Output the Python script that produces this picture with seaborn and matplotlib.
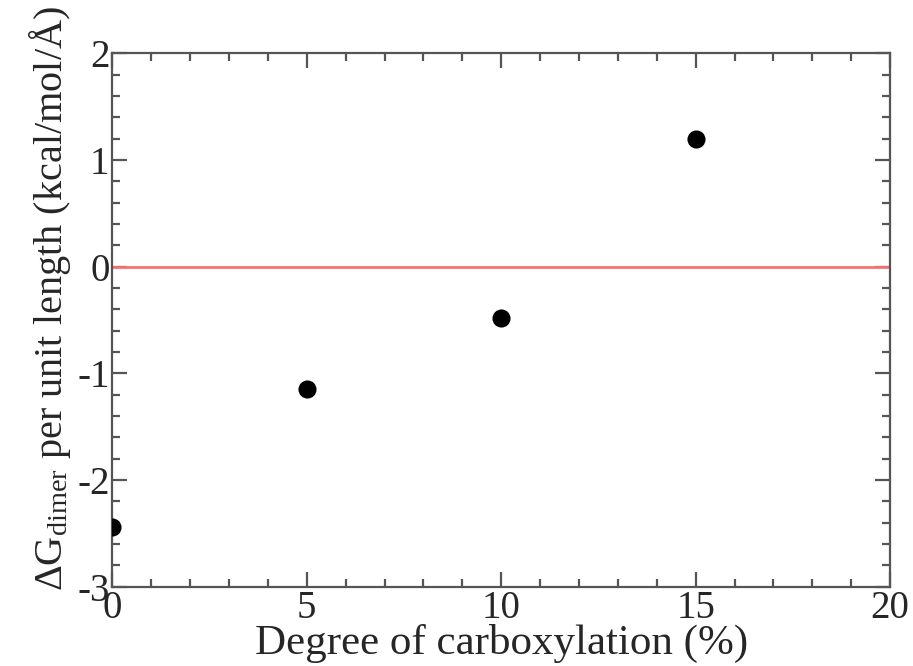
import numpy as np
import pandas as pd
import matplotlib
matplotlib.use("Agg")
import matplotlib.pyplot as plt
import seaborn as sns
from matplotlib.ticker import MultipleLocator

# data
carboxylation = [0, 5, 10, 15]
dG_dimer = [-2.44, -1.15, -0.48, 1.20]
zero_x = [0, 20]
zero_y = [0, 0]

df = pd.DataFrame({"x": carboxylation, "y": dG_dimer})

sns.set_style("ticks")
plt.rcParams['font.family'] = ['Liberation Serif', 'DejaVu Serif']
plt.rcParams['mathtext.fontset'] = 'custom'
plt.rcParams['mathtext.rm'] = 'Liberation Serif'
plt.rcParams['mathtext.it'] = 'Liberation Serif'
plt.rcParams['axes.unicode_minus'] = False

fig, ax = plt.subplots(figsize=(9.13, 6.66), dpi=100)
fig.subplots_adjust(left=0.123, right=0.975, top=0.92, bottom=0.119)

# zero reference line
ax.plot(zero_x, zero_y, color='#ff7070', lw=2, zorder=1)

sns.scatterplot(data=df, x="x", y="y", ax=ax, color='black', s=170,
                edgecolor='black', linewidth=0, zorder=3)

ax.set_xlim(0, 20)
ax.set_ylim(-3, 2)
ax.xaxis.set_major_locator(MultipleLocator(5))
ax.xaxis.set_minor_locator(MultipleLocator(1))
ax.yaxis.set_major_locator(MultipleLocator(1))
ax.yaxis.set_minor_locator(MultipleLocator(0.2))

for s in ax.spines.values():
    s.set_color('#555555')
    s.set_linewidth(1.6)
ax.tick_params(which='both', direction='in', top=True, right=True,
               color='#555555', width=1.6, labelsize=28, pad=2)
ax.tick_params(which='major', length=11)
ax.tick_params(which='minor', length=6)

ax.set_xlabel('Degree of carboxylation (%)', fontsize=31, labelpad=-2)
ax.set_ylabel(r'$\Delta$G$_{\rm dimer}$ per unit length (kcal/mol/Å)',
              fontsize=29)
ax.yaxis.set_label_coords(-0.05, 0.54)

fig.savefig("out.png", dpi=100)
